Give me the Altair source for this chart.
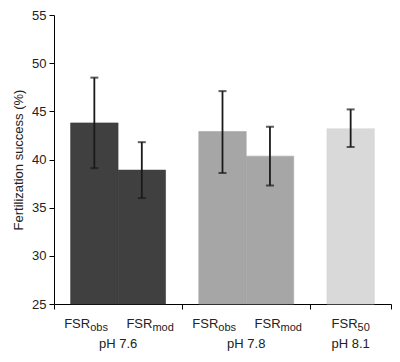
import altair as alt
import pandas as pd

# ---- data ----
groups = ["pH 7.6", "pH 7.6", "pH 7.8", "pH 7.8", "pH 8.1"]
label_main = ["FSR", "FSR", "FSR", "FSR", "FSR"]
label_sub = ["obs", "mod", "obs", "mod", "50"]
means = [43.8, 38.9, 42.9, 40.35, 43.2]
err_low = [39.1, 36.0, 38.6, 37.3, 41.3]
err_high = [48.5, 41.8, 47.1, 43.4, 45.2]

group_order = ["pH 7.6", "pH 7.8", "pH 8.1"]
group_colors = ["#404040", "#a6a6a6", "#d9d9d9"]
y_ticks = [25, 30, 35, 40, 45, 50, 55]

# ---- layout ----
W, H = 337, 289
PAD = 0.35  # space between group edge and first bar, in bar widths
FONT = "Liberation Sans"
MAIN_SIZE, SUB_SIZE = 13, 11

# approximate Arial advance widths (em)
CW = {"F": .611, "S": .667, "R": .722, "o": .556, "b": .556, "s": .5,
      "m": .833, "d": .556, "5": .556, "0": .556}


def text_w(t, size):
    return sum(CW.get(c, .556) for c in t) * size


starts, widths = {}, {}
pos = 0.0
bounds = [0.0]
for g in group_order:
    n = groups.count(g)
    starts[g] = pos
    widths[g] = n + 2 * PAD
    pos += widths[g]
    bounds.append(pos)
total = pos
ppu = W / total

x0, x1, xc, bx = [], [], [], []
seen = {}
for g, m, s in zip(groups, label_main, label_sub):
    i = seen.get(g, 0)
    seen[g] = i + 1
    n = groups.count(g)
    a = starts[g] + PAD + i
    x0.append(a)
    x1.append(a + 1)
    xc.append(a + 0.5)
    # category label centred in its share of the group section
    c = starts[g] + (i + 0.5) * widths[g] / n
    d_px = (text_w(m, MAIN_SIZE) - text_w(s, SUB_SIZE)) / 2
    bx.append(c + d_px / ppu)

df = pd.DataFrame({
    "group": groups, "main": label_main, "sub": label_sub,
    "mean": means, "lo": err_low, "hi": err_high,
    "x0": x0, "x1": x1, "xc": xc, "bx": bx,
    "floor": [y_ticks[0]] * len(groups),
})

gdf = pd.DataFrame({
    "group": group_order,
    "gc": [(bounds[i] + bounds[i + 1]) / 2 for i in range(len(group_order))],
})

x_scale = alt.Scale(domain=[0, total], nice=False, zero=False)
y_scale = alt.Scale(domain=[y_ticks[0], y_ticks[-1]], nice=False, zero=False)
c_scale = alt.Scale(domain=group_order, range=group_colors)

base = alt.Chart(df)

bars = base.mark_bar(strokeWidth=0.6).encode(
    x=alt.X("x0:Q", scale=x_scale, title=None,
            axis=alt.Axis(values=bounds, labels=False, grid=False, tickSize=5,
                          domainColor="black", tickColor="black", title=None)),
    x2="x1:Q",
    y=alt.Y("mean:Q", scale=y_scale,
            axis=alt.Axis(values=y_ticks, grid=False, tickSize=5,
                          title="Fertilization success (%)",
                          domainColor="black", tickColor="black",
                          labelPadding=3, titlePadding=6)),
    y2="floor:Q",
    color=alt.Color("group:N", scale=c_scale, legend=None),
    stroke=alt.Stroke("group:N", scale=c_scale, legend=None),
)

err = base.mark_rule(color="#1a1a1a", strokeWidth=1.8).encode(
    x=alt.X("xc:Q", title=None), y="lo:Q", y2="hi:Q")
cap_lo = base.mark_tick(color="#1a1a1a", orient="horizontal", size=8, thickness=2).encode(
    x=alt.X("xc:Q", title=None), y="lo:Q")
cap_hi = base.mark_tick(color="#1a1a1a", orient="horizontal", size=8, thickness=2).encode(
    x=alt.X("xc:Q", title=None), y="hi:Q")

lab_main = base.mark_text(align="right", baseline="alphabetic", fontSize=MAIN_SIZE,
                          font=FONT, color="#222").encode(
    x=alt.X("bx:Q", title=None), y=alt.value(H + 24), text="main:N")
lab_sub = base.mark_text(align="left", baseline="alphabetic", fontSize=SUB_SIZE,
                         font=FONT, color="#222").encode(
    x=alt.X("bx:Q", title=None), y=alt.value(H + 27), text="sub:N")
lab_grp = alt.Chart(gdf).mark_text(align="center", baseline="alphabetic",
                                   fontSize=MAIN_SIZE, font=FONT, color="#222").encode(
    x=alt.X("gc:Q", title=None), y=alt.value(H + 44), text="group:N")

chart = alt.layer(bars, err, cap_lo, cap_hi, lab_main, lab_sub, lab_grp).properties(
    width=W, height=H,
    autosize=alt.AutoSizeParams(type="none"),
    padding={"left": 46, "top": 7, "right": 1, "bottom": 50},
).configure_view(stroke=None).configure_axis(
    labelFont=FONT, titleFont=FONT, labelFontSize=13, titleFontSize=13,
    titleFontWeight="normal", labelColor="#222", titleColor="#222",
)

chart.save("out.html", embed_options={"renderer": "svg", "actions": False})
